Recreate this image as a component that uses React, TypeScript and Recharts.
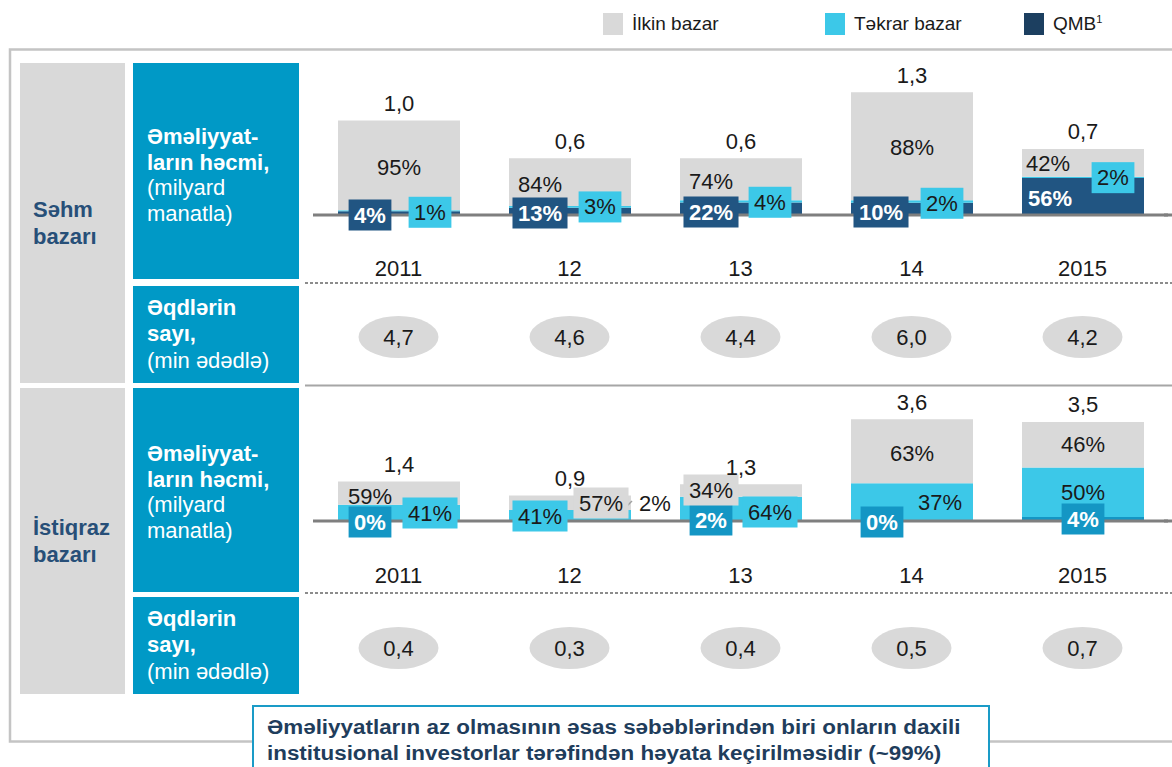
import React from "react";
import { BarChart, Bar, XAxis, YAxis, LabelList } from "recharts";

const years = ["2011", "12", "13", "14", "2015"];

// Səhm bazarı
const stockVolume = [1.0, 0.6, 0.6, 1.3, 0.7];
const stockIlkin = [95, 84, 74, 88, 42];
const stockTekrar = [1, 3, 4, 2, 2];
const stockQmb = [4, 13, 22, 10, 56];
const stockDeals = [4.7, 4.6, 4.4, 6.0, 4.2];

// İstiqraz bazarı
const bondVolume = [1.4, 0.9, 1.3, 3.6, 3.5];
const bondIlkin = [59, 57, 34, 63, 46];
const bondTekrar = [41, 41, 64, 37, 50];
const bondQmb = [0, 2, 2, 0, 4];
const bondDeals = [0.4, 0.3, 0.4, 0.5, 0.7];

const legendNames = ["İlkin bazar", "Təkrar bazar", "QMB"];

const FONT = "'Liberation Sans', Arial, sans-serif";
const GRAY = "#d9d9d9";
const CYAN = "#3cc8e8";
const NAVY = "#215582";
const TEAL = "#1496c4";
const BLUE = "#0099c6";
const DARK = "#1a1a1a";
const legendColors = [GRAY, CYAN, "#1c3f60"];
const legendLeft = [603, 825, 1024];

const fmt = (v: number) => v.toFixed(1).replace(".", ",");

function buildRows(vol: number[], ilkin: number[], tekrar: number[], qmb: number[]) {
  return years.map((year, i) => ({
    year,
    total: vol[i],
    qmb: (vol[i] * qmb[i]) / 100,
    tekrar: (vol[i] * tekrar[i]) / 100,
    ilkin: (vol[i] * ilkin[i]) / 100,
    qmbPct: qmb[i],
    tekrarPct: tekrar[i],
    ilkinPct: ilkin[i],
  }));
}

const stockRows = buildRows(stockVolume, stockIlkin, stockTekrar, stockQmb);
const bondRows = buildRows(bondVolume, bondIlkin, bondTekrar, bondQmb);

type Spec = {
  ref: "mid" | "top" | "base";
  dx: number;
  dy: number;
  box?: string;
  color?: string;
  bold?: boolean;
  leader?: boolean;
};

const t = (ref: Spec["ref"], dx: number, dy: number): Spec => ({ ref, dx, dy });
const bx = (ref: Spec["ref"], dx: number, dy: number, box: string, color: string, bold = false): Spec => ({
  ref, dx, dy, box, color, bold,
});

// label placement, relative to bar centre and segment / baseline
const stockLayout: Record<string, Spec[]> = {
  ilkin: [t("mid", 0, 2), t("mid", -30, 2), t("mid", -30, 2), t("mid", 0, 1), t("mid", -35, 1)],
  qmb: [
    bx("base", -29, 0, NAVY, "#fff", true),
    bx("base", -30, -2, NAVY, "#fff", true),
    bx("base", -30, -3, NAVY, "#fff", true),
    bx("base", -31, -3, NAVY, "#fff", true),
    { ref: "base", dx: -33, dy: -17, color: "#fff", bold: true },
  ],
  tekrar: [
    bx("top", 31, 2, CYAN, DARK),
    bx("top", 30, 1, CYAN, DARK),
    bx("top", 29, 2, CYAN, DARK),
    bx("top", 30, 3, CYAN, DARK),
    bx("top", 30, 1, CYAN, DARK),
  ],
};

const bondLayout: Record<string, Spec[]> = {
  ilkin: [t("mid", -29, 3), bx("base", 31, -18, GRAY, DARK), bx("base", -30, -31, GRAY, DARK), t("mid", 0, 2), t("mid", 0, 0)],
  tekrar: [
    bx("base", 31, -8, CYAN, DARK),
    bx("base", -30, -5, CYAN, DARK),
    bx("base", 29, -9, CYAN, DARK),
    t("mid", 28, 0),
    t("mid", 0, 0),
  ],
  qmb: [
    bx("base", -29, 1, TEAL, "#fff", true),
    { ref: "base", dx: 85, dy: -18, leader: true },
    bx("base", -30, -1, TEAL, "#fff", true),
    bx("base", -30, 1, TEAL, "#fff", true),
    bx("base", 0, -2, TEAL, "#fff", true),
  ],
};

const FS = 22;
const HEAD = 20; // room above each section for the total labels

const rowIndex = (props: any) => {
  const year = props.payload?.year;
  const i = year != null ? years.indexOf(year) : -1;
  return i >= 0 ? i : props.index;
};

const makeLabel = (specs: Spec[], baseY: number) => (props: any) => {
  const { value } = props;
  const index = rowIndex(props);
  const vb = props.viewBox || props;
  const s = specs[index];
  if (!s || vb == null) return null;
  const cx = vb.x + vb.width / 2 + s.dx;
  const ref = s.ref === "mid" ? vb.y + vb.height / 2 : s.ref === "top" ? vb.y : baseY;
  const cy = ref + s.dy;
  const w = (String(value).length * 0.556 + 0.889) * FS + 11;
  return (
    <g key={`l-${index}`}>
      {s.box && <rect x={cx - w / 2} y={cy - 15.5} width={w} height={31} fill={s.box} />}
      {s.leader && <line x1={cx - 28} y1={cy + 3} x2={cx - 23} y2={cy - 2} stroke="#a0a0a0" strokeWidth={1.5} />}
      <text
        x={cx}
        y={cy}
        textAnchor="middle"
        dominantBaseline="central"
        fontFamily={FONT}
        fontSize={FS}
        fontWeight={s.bold ? 700 : 400}
        fill={s.color || DARK}
      >
        {value}%
      </text>
    </g>
  );
};

const totalLabel = (props: any) => {
  const vb = props.viewBox || props;
  return (
    <text
      key={`t-${props.index}`}
      x={vb.x + vb.width / 2}
      y={vb.y - 17}
      textAnchor="middle"
      dominantBaseline="central"
      fontFamily={FONT}
      fontSize={FS}
      fill={DARK}
    >
      {fmt(props.value)}
    </text>
  );
};

const makeTick = (deals: number[], yearY: number, dealY: number) => (props: any) => {
  const { x, payload, index } = props;
  return (
    <g key={`tick-${index}`}>
      <text x={x} y={yearY} textAnchor="middle" dominantBaseline="central" fontFamily={FONT} fontSize={FS} fill={DARK}>
        {payload.value}
      </text>
      <ellipse cx={x} cy={dealY} rx={40} ry={21} fill={GRAY} />
      <text x={x} y={dealY} textAnchor="middle" dominantBaseline="central" fontFamily={FONT} fontSize={FS} fill={DARK}>
        {fmt(deals[index])}
      </text>
    </g>
  );
};

const CHART_W = 867;
const MARGIN = { top: HEAD, right: 4, bottom: 0, left: 8 };

type SectionProps = {
  rows: any[];
  top: number;
  height: number;
  plotH: number;
  yMax: number;
  qmbColor: string;
  deals: number[];
  yearY: number;
  dealY: number;
  layout: Record<string, Spec[]>;
};

function Section({ rows, top, height, plotH, yMax, qmbColor, deals, yearY, dealY, layout }: SectionProps) {
  const axisH = height - plotH;
  const chartH = height + HEAD;
  const base = HEAD + plotH;
  const pos: React.CSSProperties = { position: "absolute", left: 305, top: top - HEAD };
  return (
    <>
      <div style={pos}>
        <BarChart width={CHART_W} height={chartH} data={rows} margin={MARGIN} barSize={122}>
          <XAxis
            dataKey="year"
            height={axisH}
            interval={0}
            axisLine={{ stroke: "#7f7f7f", strokeWidth: 3 }}
            tickLine={false}
            tick={makeTick(deals, yearY + HEAD, dealY + HEAD)}
          />
          <YAxis hide width={0} domain={[0, yMax]} />
          <Bar dataKey="qmb" stackId="a" fill={qmbColor} isAnimationActive={false} />
          <Bar dataKey="tekrar" stackId="a" fill={CYAN} isAnimationActive={false} />
          <Bar dataKey="ilkin" stackId="a" fill={GRAY} isAnimationActive={false} />
        </BarChart>
      </div>
      {/* labels drawn in a second, transparent copy so they sit above every segment */}
      <div style={pos}>
        <BarChart width={CHART_W} height={chartH} data={rows} margin={MARGIN} barSize={122}>
          <XAxis dataKey="year" height={axisH} axisLine={false} tickLine={false} tick={false} />
          <YAxis hide width={0} domain={[0, yMax]} />
          <Bar dataKey="qmb" stackId="a" fill="transparent" isAnimationActive={false} />
          <Bar dataKey="tekrar" stackId="a" fill="transparent" isAnimationActive={false}>
            <LabelList dataKey="tekrarPct" content={makeLabel(layout.tekrar, base)} />
          </Bar>
          <Bar dataKey="ilkin" stackId="a" fill="transparent" isAnimationActive={false}>
            <LabelList dataKey="qmbPct" content={makeLabel(layout.qmb, base)} />
            <LabelList dataKey="ilkinPct" content={makeLabel(layout.ilkin, base)} />
            <LabelList dataKey="total" content={totalLabel} />
          </Bar>
        </BarChart>
      </div>
    </>
  );
}

const box = (left: number, top: number, width: number, height: number, bg: string): React.CSSProperties => ({
  position: "absolute",
  left,
  top,
  width,
  height,
  background: bg,
  boxSizing: "border-box",
  display: "flex",
  flexDirection: "column",
  justifyContent: "center",
});

function VolumeText() {
  return (
    <div style={{ color: "#fff", fontSize: 22, lineHeight: "25.5px", paddingLeft: 14 }}>
      <div style={{ fontWeight: 700 }}>Əməliyyat-</div>
      <div style={{ fontWeight: 700 }}>ların həcmi,</div>
      <div>(milyard</div>
      <div>manatla)</div>
    </div>
  );
}

function DealsText() {
  return (
    <div style={{ color: "#fff", fontSize: 22, lineHeight: "26.5px", paddingLeft: 14 }}>
      <div style={{ fontWeight: 700 }}>Əqdlərin</div>
      <div style={{ fontWeight: 700 }}>sayı,</div>
      <div>(min ədədlə)</div>
    </div>
  );
}

const marketText: React.CSSProperties = {
  color: "#274f78",
  fontSize: 22,
  fontWeight: 700,
  lineHeight: "27px",
  paddingLeft: 13,
};

export default function App() {
  return (
    <div
      style={{
        position: "absolute",
        left: 0,
        top: 0,
        width: 1172,
        height: 767,
        overflow: "hidden",
        background: "#fff",
        fontFamily: FONT,
      }}
    >
      <svg width={1172} height={767} style={{ position: "absolute", left: 0, top: 0 }}>
        <rect x={10} y={49.5} width={1200} height={692} fill="none" stroke="#c4c4c4" strokeWidth={2.5} />
        <line x1={305} x2={1172} y1={283} y2={283} stroke="#8c8c8c" strokeWidth={2} strokeDasharray="3 2" />
        <line x1={305} x2={1172} y1={593} y2={593} stroke="#8c8c8c" strokeWidth={2} strokeDasharray="3 2" />
        <line x1={305} x2={1172} y1={385.5} y2={385.5} stroke="#a6a6a6" strokeWidth={2} />
        <line x1={1164} x2={1172} y1={215} y2={215} stroke="#7f7f7f" strokeWidth={3} />
        <line x1={1164} x2={1172} y1={521} y2={521} stroke="#7f7f7f" strokeWidth={3} />
      </svg>

      {legendNames.map((name, i) => (
        <div key={name} style={{ position: "absolute", left: legendLeft[i], top: 13, display: "flex", alignItems: "center" }}>
          <div style={{ width: 20, height: 22, background: legendColors[i] }} />
          <div style={{ marginLeft: 9, fontSize: 19, color: DARK }}>
            {name}
            {name === "QMB" && <sup style={{ fontSize: 11 }}>1</sup>}
          </div>
        </div>
      ))}

      <div style={box(20, 63, 105, 320, GRAY)}>
        <div style={marketText}>
          <div>Səhm</div>
          <div>bazarı</div>
        </div>
      </div>
      <div style={box(20, 388, 105, 306, GRAY)}>
        <div style={marketText}>
          <div>İstiqraz</div>
          <div>bazarı</div>
        </div>
      </div>
      <div style={{ ...box(133, 63, 166, 216, BLUE), paddingTop: 8 }}>
        <VolumeText />
      </div>
      <div style={box(133, 286, 166, 97, BLUE)}>
        <DealsText />
      </div>
      <div style={{ ...box(133, 388, 166, 204, BLUE), paddingTop: 4 }}>
        <VolumeText />
      </div>
      <div style={box(133, 597, 166, 97, BLUE)}>
        <DealsText />
      </div>

      <Section
        rows={stockRows}
        top={63}
        height={320}
        plotH={152}
        yMax={1.61}
        qmbColor={NAVY}
        deals={stockDeals}
        yearY={205}
        dealY={274}
        layout={stockLayout}
      />
      <Section
        rows={bondRows}
        top={388}
        height={306}
        plotH={133}
        yMax={4.7}
        qmbColor={TEAL}
        deals={bondDeals}
        yearY={187}
        dealY={260}
        layout={bondLayout}
      />

      <div
        style={{
          position: "absolute",
          left: 252,
          top: 705,
          width: 738,
          height: 90,
          border: "2.5px solid #1a9bc7",
          background: "#fff",
          boxSizing: "border-box",
          padding: "7px 0 0 13px",
          color: "#1f3d5c",
          fontSize: 20,
          fontWeight: 700,
          lineHeight: "26px",
          overflow: "hidden",
        }}
      >
        <div style={{ transform: "scaleX(1.12)", transformOrigin: "left center", whiteSpace: "nowrap" }}>
          <div>Əməliyyatların az olmasının əsas səbəblərindən biri onların daxili</div>
          <div>institusional investorlar tərəfindən həyata keçirilməsidir (~99%)</div>
        </div>
      </div>
    </div>
  );
}
